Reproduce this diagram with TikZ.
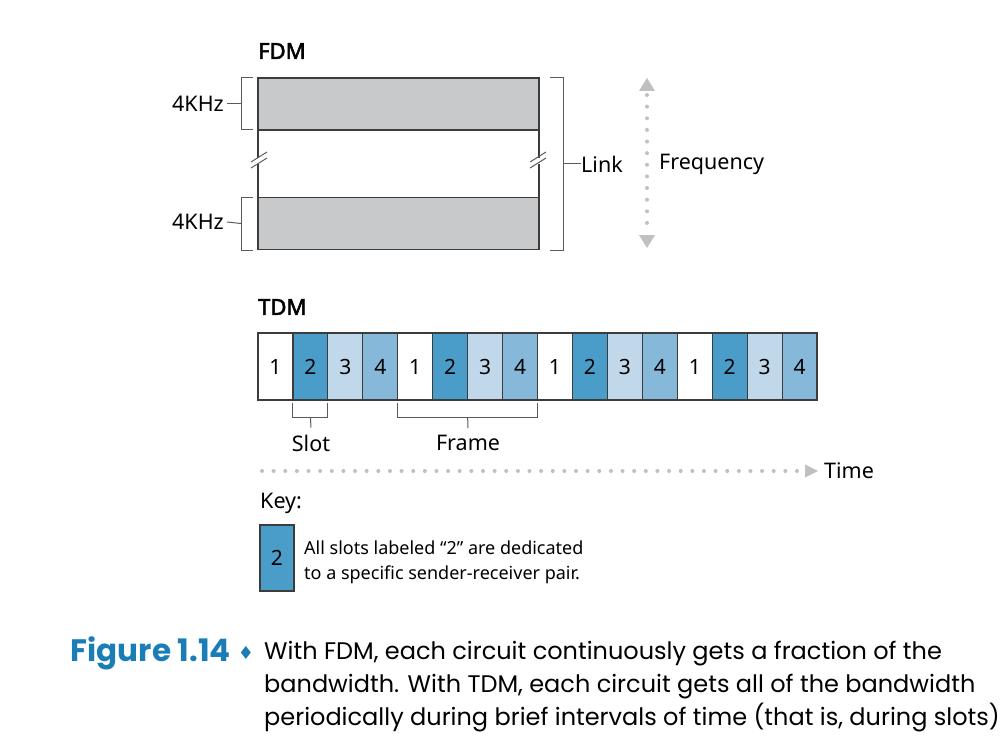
\documentclass[tikz,border=0pt]{standalone}
\usepackage{fontspec}
\setmainfont{Noto Sans}[BoldFont={Noto Sans}, BoldFeatures={FakeBold=2.5}]
\newfontfamily\capfont{Poppins}
\newfontfamily\symfont{DejaVu Sans}
\usepackage{xcolor}
\usepackage{tikz}
\usetikzlibrary{positioning}

\definecolor{bandgray}{HTML}{C8C9CB}
\definecolor{edgegray}{HTML}{3C3C3C}
\definecolor{brkgray}{HTML}{5A5A5A}
\definecolor{dotgray}{HTML}{BFC0C2}
\definecolor{chtwo}{HTML}{4A9DC9}
\definecolor{chthree}{HTML}{C1D8EA}
\definecolor{chfour}{HTML}{86B8D9}
\definecolor{figblue}{HTML}{1A7DB5}

\begin{document}
\begin{tikzpicture}[x=1pt, y=-1pt,
	lbl/.style={font=\fontsize{21.5}{25}\selectfont, inner sep=0pt},
	ttl/.style={font=\fontsize{22}{26}\selectfont\bfseries, inner sep=0pt},
	band/.style={draw=edgegray, fill=bandgray, line width=1.2pt, minimum width=281pt, minimum height=52pt, inner sep=0pt, outer sep=0pt},
	slotbox/.style={draw=edgegray, line width=1.2pt, minimum width=34.94pt, minimum height=67pt, inner sep=0pt, outer sep=0pt, font=\fontsize{21}{24}\selectfont},
	edge/.style={draw=edgegray, line width=1.2pt},
	brk/.style={draw=brkgray, line width=1pt},
	dots/.style={draw=dotgray, line width=4pt, line cap=round, dash pattern=on 0pt off 11.63pt}]
	\useasboundingbox (0,0) rectangle (1000,746);

	% FDM
	\node[ttl, anchor=west] (fdm) at (258,51) {FDM};
	\node[band] (b1) at (398.5,104) {};
	\node[band] (b2) at (398.5,223.5) {};
	\draw[edge] (b1.south west) -- (258,158) (258,164) -- (b2.north west);
	\draw[edge] (b1.south east) -- (539,158) (539,164) -- (b2.north east);
	\draw[brk] (251,162) -- (267,152) (251,168) -- (267,158);
	\draw[brk] (530,162) -- (546,152) (530,168) -- (546,158);

	\node[lbl, anchor=east] (khz1) at (224,104) {4KHz};
	\node[lbl, anchor=east] (khz2) at (224,222) {4KHz};
	\draw[brk] (b1.north west) ++(-5,0) -- ++(-12,0) -- ++(0,52) -- ++(12,0);
	\draw[brk] (b2.north west) ++(-5,0) -- ++(-12,0) -- ++(0,53) -- ++(12,0);
	\draw[brk] (b1.west) ++(-17,0) -- ([xshift=3pt]khz1.east);
	\draw[brk] (b2.west) ++(-17,0) -- ([xshift=3pt]khz2.east);

	\node[lbl, anchor=west] (link) at (581,164) {Link};
	\coordinate (rb) at (563,164);
	\draw[brk] (b1.north east) ++(11,0) -- ++(13,0) -- ++(0,172) -- ++(-13,0);
	\draw[brk] (rb) -- (link.west);

	\node[lbl, anchor=west] (freq) at (659,164) {Frequency};
	\coordinate (ftop) at (647,78);
	\coordinate (fbot) at (647,248);
	\draw[dots] (647,95) -- (647,228);
	\fill[dotgray] (ftop) -- ++(8,13) -- ++(-16,0) -- cycle;
	\fill[dotgray] (fbot) -- ++(8,-13) -- ++(-16,0) -- cycle;

	% TDM
	\node[ttl, anchor=west] (tdm) at (258,307) {TDM};
	\foreach \f in {0,...,3}
		\foreach \n/\c in {1/white,2/chtwo,3/chthree,4/chfour}
			\node[slotbox, fill=\c] (s-\f-\n) at ({258+(4*\f+\n-0.5)*34.94},366.5) {\n};

	\node[lbl] (slot) at (311,443) {Slot};
	\node[lbl] (frame) at (468,443) {Frame};
	\draw[brk] (s-0-2.south west) ++(0,3) -- ++(0,14) -- ++(34.94,0) -- ++(0,-14);
	\draw[brk] (s-0-2.south) ++(0,17) -- ([yshift=7pt]slot.north);
	\draw[brk] (s-1-1.south west) ++(0,3) -- ++(0,14) -- ++(139.76,0) -- ++(0,-14);
	\draw[brk] (s-1-2.south east) ++(0,17) -- ([yshift=7pt]frame.north);

	\node[lbl, anchor=west] (time) at (824,471) {Time};
	\coordinate (ttip) at (818,471);
	\draw[dots] (262,471) -- (797,471);
	\fill[dotgray] (ttip) -- ++(-13,-6.5) -- ++(0,13) -- cycle;

	% key
	\node[lbl, anchor=west] (key) at (260,503) {Key:};
	\node[slotbox, fill=chtwo, minimum width=34pt, minimum height=66pt] (k2) at (277,558) {2};
	\node[anchor=west, align=left, inner sep=0pt, font=\fontsize{18}{25}\selectfont] (keytxt) at (304,562)
		{All slots labeled “2” are dedicated\\to a specific sender-receiver pair.};

	% caption
	\node[anchor=base east, inner sep=0pt, text=figblue, font=\capfont\fontsize{31}{33}\selectfont\bfseries] (fig) at (231,661) {Figure 1.14};
	\node[anchor=base, inner sep=0pt, text=figblue, font=\symfont\fontsize{18}{20}\selectfont] (dia) at (246,659) {♦};
	\node[anchor=base west, align=left, inner sep=0pt, font=\capfont\fontsize{24}{33}\selectfont] (cap) at (264,725)
		{With FDM, each circuit continuously gets a fraction of the\\bandwidth. With TDM, each circuit gets all of the bandwidth\\periodically during brief intervals of time (that is, during slots)};
\end{tikzpicture}
\end{document}
